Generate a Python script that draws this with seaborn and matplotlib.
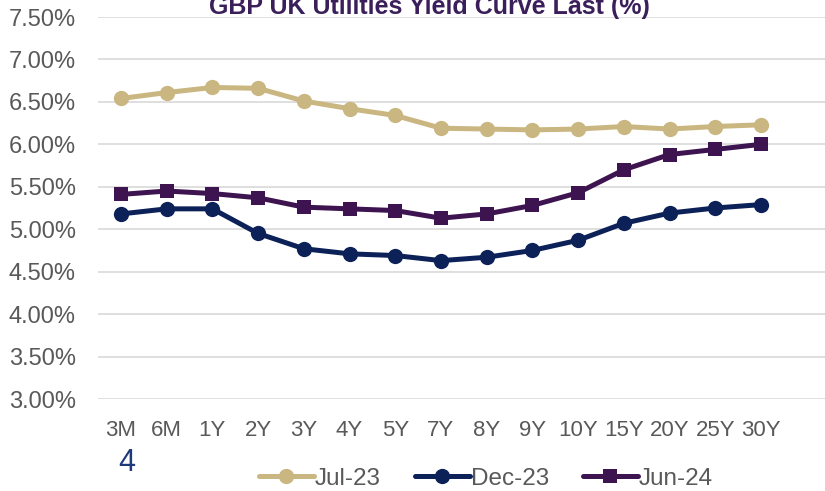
import numpy as np
import pandas as pd
import seaborn as sns
import matplotlib.pyplot as plt
from matplotlib import ticker

# Tenors on the x axis
TENORS = ["3M", "6M", "1Y", "2Y", "3Y", "4Y", "5Y", "7Y", "8Y", "9Y", "10Y",
          "15Y", "20Y", "25Y", "30Y"]
# Yields (%)
JUL_23 = [6.54, 6.61, 6.67, 6.66, 6.51, 6.42, 6.34, 6.19, 6.18, 6.17, 6.18,
          6.21, 6.18, 6.21, 6.23]
DEC_23 = [5.18, 5.24, 5.24, 4.95, 4.77, 4.71, 4.69, 4.63, 4.67, 4.75, 4.87,
          5.07, 5.19, 5.25, 5.29]
JUN_24 = [5.41, 5.45, 5.42, 5.37, 5.26, 5.24, 5.22, 5.13, 5.18, 5.28, 5.43,
          5.70, 5.88, 5.94, 6.00]
SERIES = ["Jul-23", "Dec-23", "Jun-24"]

TITLE = "GBP UK Utilities Yield Curve Last (%)"
GREY = "#595959"

sns.set_style("white")
plt.rcParams["font.family"] = ["Liberation Sans", "DejaVu Sans"]

df = pd.DataFrame({"Tenor": TENORS, "Jul-23": JUL_23, "Dec-23": DEC_23,
                   "Jun-24": JUN_24})
styles = {
    "Jul-23": dict(color="#c9b680", marker="o", markersize=11),
    "Dec-23": dict(color="#0c2158", marker="o", markersize=11),
    "Jun-24": dict(color="#3d1450", marker="s", markersize=10),
}

fig = plt.figure(figsize=(8.25, 4.91), dpi=100)
ax = fig.add_axes([98 / 825, 1 - 399 / 491, 1 - 98 / 825, (399 - 17) / 491])

x = np.arange(len(TENORS))
for name in SERIES:
    st = styles[name]
    sns.lineplot(x=x, y=df[name], ax=ax, color=st["color"], linewidth=3.6,
                 marker=st["marker"], markersize=st["markersize"],
                 markeredgewidth=0, label=name)

ax.set_ylim(3.0, 7.5)
ax.set_yticks(np.arange(3.0, 7.51, 0.5))
ax.yaxis.set_major_formatter(ticker.FuncFormatter(lambda v, p: f"{v:.2f}%"))
ax.set_xlim(-(121 - 98) / 45.7, 14 + (825 - 761) / 45.7)
ax.set_xticks(x)
ax.set_xticklabels(TENORS)
ax.set_xlabel("")
ax.set_ylabel("")

ax.grid(axis="y", color="#d9d9d9", linewidth=1.2)
ax.set_axisbelow(True)
for s in ax.spines.values():
    s.set_visible(False)
ax.tick_params(axis="y", length=0, pad=16, labelsize=17, labelcolor=GREY)
ax.tick_params(axis="x", length=0, pad=15, labelsize=16, labelcolor=GREY)

ax.get_legend().remove()
handles, labels = ax.get_legend_handles_labels()
fig.legend(handles, labels, loc="center", bbox_to_anchor=(486 / 825, 1 - 479 / 491),
           ncol=3, frameon=False, fontsize=17.5, labelcolor=GREY,
           handlelength=2.25, handletextpad=0.05, columnspacing=1.4)

# title is clipped at the top edge, as in the source chart
fig.text(429 / 825, 1 - 14 / 491, TITLE, ha="center", va="baseline",
         fontsize=18, fontweight="bold", color="#3b1f5a")
fig.text(127 / 825, 1 - 463 / 491, "4", ha="center", va="center",
         fontsize=22, color="#1f3a7a")

fig.savefig("out.png", dpi=100)
